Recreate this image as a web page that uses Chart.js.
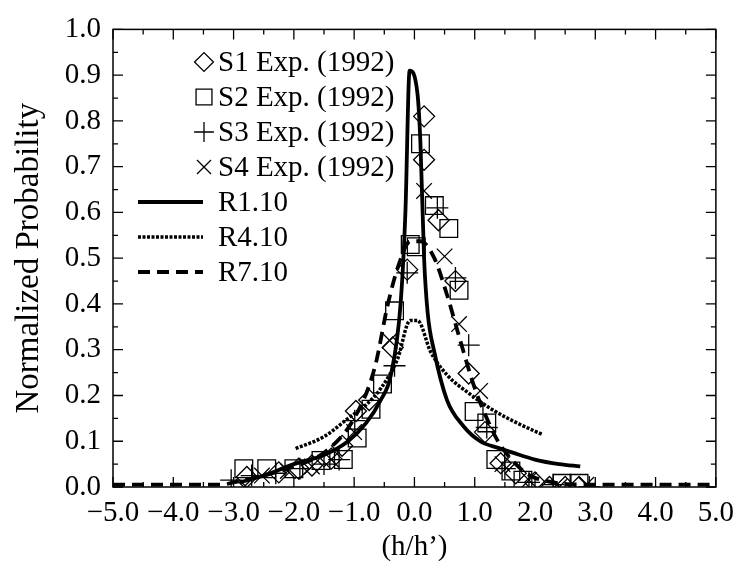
<!DOCTYPE html>
<html>
<head>
<meta charset="utf-8">
<script src="https://cdn.jsdelivr.net/npm/chart.js@4/dist/chart.umd.min.js"></script>
<style>
  html, body { margin: 0; padding: 0; background: #fff; }
  #wrap { width: 743px; height: 569px; }
</style>
</head>
<body>
<div id="wrap"><canvas id="chart" width="743" height="569"></canvas></div>
<script>
// experimental points (h/h', normalized probability)
const s1X = [-2.78, -2.25, -1.92, -1.7, -1.38, -1.2, -0.97, -0.75, -0.36, -0.12, 0.16, 0.16, 0.40, 0.68, 0.9, 1.17, 1.43, 1.68, 2.0, 2.24, 2.5, 2.73];
const s1Y = [0.022, 0.032, 0.04, 0.047, 0.062, 0.09, 0.166, 0.19, 0.305, 0.475, 0.81, 0.715, 0.583, 0.45, 0.248, 0.12, 0.052, 0.03, 0.01, 0.0, 0.0, 0.0];

const s2X = [-2.83, -2.45, -2.0, -1.55, -1.18, -0.95, -0.72, -0.53, -0.33, -0.07, 0.03, 0.1, 0.33, 0.57, 0.74, 0.99, 1.2, 1.35, 1.6, 1.8, 2.45, 2.73];
const s2Y = [0.04, 0.04, 0.04, 0.058, 0.06, 0.107, 0.17, 0.225, 0.385, 0.53, 0.525, 0.75, 0.615, 0.565, 0.43, 0.165, 0.14, 0.06, 0.035, 0.015, 0.008, 0.008];

const s3X = [-3.04, -2.7, -2.3, -1.9, -1.5, -1.25, -0.99, -0.33, -0.12, 0.38, 0.68, 0.9, 1.2, 1.5, 1.9, 2.3, 2.9];
const s3Y = [0.015, 0.025, 0.03, 0.04, 0.05, 0.06, 0.145, 0.265, 0.468, 0.61, 0.457, 0.31, 0.13, 0.04, 0.01, 0.005, 0.0];

const s4X = [-2.83, -2.53, -2.1, -1.7, -1.38, -1.0, -0.41, 0.16, 0.5, 0.74, 1.09, 1.46, 1.9, 2.4, 2.85];
const s4Y = [0.0, 0.025, 0.035, 0.045, 0.06, 0.12, 0.32, 0.647, 0.504, 0.356, 0.21, 0.05, 0.015, 0.0, 0.005];

// model curves
const r1X = [-2.9, -2.5, -2.0, -1.5, -1.1, -0.8, -0.56, -0.39, -0.23, -0.15, -0.08, 0.05, 0.1, 0.16, 0.22, 0.33, 0.54, 0.8, 1.09, 1.4, 1.63, 2.0, 2.4, 2.75];
const r1Y = [0.01, 0.025, 0.05, 0.07, 0.10, 0.14, 0.19, 0.245, 0.40, 0.6, 0.91, 0.86, 0.75, 0.5, 0.38, 0.295, 0.19, 0.135, 0.10, 0.085, 0.075, 0.06, 0.05, 0.045];

const r4X = [-1.97, -1.5, -1.1, -0.8, -0.56, -0.28, -0.07, 0.05, 0.27, 0.54, 0.9, 1.28, 1.7, 2.12];
const r4Y = [0.084, 0.11, 0.15, 0.18, 0.215, 0.28, 0.364, 0.364, 0.295, 0.245, 0.205, 0.17, 0.14, 0.115];

const r7X = [-5.0, -4.0, -3.2, -3.0, -2.5, -2.0, -1.5, -1.0, -0.66, -0.44, -0.25, -0.07, 0.1, 0.33, 0.54, 0.76, 0.99, 1.2, 1.4, 1.72, 2.0, 3.0, 4.0, 5.0];
const r7Y = [0.005, 0.005, 0.005, 0.01, 0.025, 0.045, 0.075, 0.15, 0.26, 0.40, 0.49, 0.537, 0.537, 0.50, 0.42, 0.32, 0.22, 0.15, 0.097, 0.045, 0.02, 0.005, 0.005, 0.005];

const labels = ['S1 Exp. (1992)', 'S2 Exp. (1992)', 'S3 Exp. (1992)', 'S4 Exp. (1992)', 'R1.10', 'R4.10', 'R7.10'];

const serif = '"Liberation Serif", "DejaVu Serif", serif';

function pairs(xs, ys) {
    return xs.map(function (x, i) { return { x: x, y: ys[i] }; });
}

function markerSet(label, xs, ys, style, radius) {
    return {
        label: label,
        data: pairs(xs, ys),
        pointStyle: style,
        pointRadius: radius,
        pointHoverRadius: radius,
        pointBorderColor: '#000',
        pointBackgroundColor: 'rgba(0,0,0,0)',
        pointBorderWidth: 1.3,
        showLine: false
    };
}

function lineSet(label, xs, ys, width, dash) {
    return {
        label: label,
        data: pairs(xs, ys),
        showLine: true,
        borderColor: '#000',
        borderWidth: width,
        borderDash: dash,
        pointRadius: 0,
        pointHoverRadius: 0,
        cubicInterpolationMode: 'monotone',
        fill: false
    };
}

function fmt(v) {
    const s = (Math.round(v * 10) / 10).toFixed(1);
    return s.replace('-', '\u2212');
}

// inward ticks on all four sides plus the frame
const frameTicks = {
    id: 'frameTicks',
    afterDatasetsDraw: function (chart) {
        const ctx = chart.ctx;
        const a = chart.chartArea;
        const xs = chart.scales.x;
        const ys = chart.scales.y;
        ctx.save();
        ctx.strokeStyle = '#000';
        ctx.lineWidth = 1.5;
        ctx.strokeRect(a.left, a.top, a.right - a.left, a.bottom - a.top);
        ctx.lineWidth = 1.3;
        ctx.beginPath();
        for (let i = -10; i <= 10; i++) {
            const px = xs.getPixelForValue(i / 2);
            const len = i % 2 === 0 ? 10 : 5;
            ctx.moveTo(px, a.bottom); ctx.lineTo(px, a.bottom - len);
            ctx.moveTo(px, a.top); ctx.lineTo(px, a.top + len);
        }
        for (let j = 0; j <= 20; j++) {
            const py = ys.getPixelForValue(j / 20);
            const len = j % 2 === 0 ? 10 : 5;
            ctx.moveTo(a.left, py); ctx.lineTo(a.left + len, py);
            ctx.moveTo(a.right, py); ctx.lineTo(a.right - len, py);
        }
        ctx.stroke();
        ctx.restore();
    }
};

// legend inside the plot, markers and line samples left of the text
const innerLegend = {
    id: 'innerLegend',
    afterDraw: function (chart) {
        const ctx = chart.ctx;
        const textX = 218;
        const rowY = [62, 97, 132, 167, 202, 237, 272];
        ctx.save();
        ctx.font = '29px ' + serif;
        ctx.fillStyle = '#000';
        ctx.textBaseline = 'middle';
        chart.data.datasets.forEach(function (ds, i) {
            const y = rowY[i];
            if (ds.showLine) {
                ctx.save();
                ctx.strokeStyle = '#000';
                ctx.lineWidth = ds.borderWidth;
                ctx.setLineDash(ds.borderDash || []);
                ctx.beginPath();
                ctx.moveTo(138, y);
                ctx.lineTo(203, y);
                ctx.stroke();
                ctx.restore();
            } else {
                ctx.save();
                ctx.strokeStyle = '#000';
                ctx.fillStyle = 'rgba(0,0,0,0)';
                ctx.lineWidth = 1.3;
                Chart.helpers.drawPoint(ctx, {
                    pointStyle: ds.pointStyle,
                    radius: ds.pointRadius * 0.9,
                    rotation: 0,
                    borderWidth: 1.3
                }, 204, y);
                ctx.restore();
            }
            ctx.fillText(ds.label, textX, y + 1);
        });
        ctx.restore();
    }
};

Chart.defaults.color = '#000';
Chart.defaults.font.family = serif;

new Chart(document.getElementById('chart'), {
    type: 'scatter',
    data: {
        datasets: [
            markerSet(labels[0], s1X, s1Y, 'rectRot', 10.5),
            markerSet(labels[1], s2X, s2Y, 'rect', 12.5),
            markerSet(labels[2], s3X, s3Y, 'cross', 11),
            markerSet(labels[3], s4X, s4Y, 'crossRot', 11),
            lineSet(labels[4], r1X, r1Y, 3.8, []),
            lineSet(labels[5], r4X, r4Y, 3.5, [3, 1.5]),
            lineSet(labels[6], r7X, r7Y, 3.8, [12, 7])
        ]
    },
    options: {
        responsive: false,
        animation: false,
        layout: { padding: { left: 0, right: 22, top: 23, bottom: 0 } },
        plugins: {
            legend: { display: false },
            tooltip: { enabled: false }
        },
        scales: {
            x: {
                type: 'linear',
                min: -5,
                max: 5,
                grid: { display: false, drawTicks: false },
                border: { display: false },
                ticks: {
                    stepSize: 1,
                    autoSkip: false,
                    maxRotation: 0,
                    padding: 9,
                    font: { size: 29 },
                    callback: function (v) { return fmt(v); }
                },
                title: {
                    display: true,
                    text: '(h/h\u2019)',
                    font: { size: 29 },
                    padding: { top: 0, bottom: 4 }
                },
                afterFit: function (scale) { scale.height = 82; }
            },
            y: {
                type: 'linear',
                min: 0,
                max: 1,
                grid: { display: false, drawTicks: false },
                border: { display: false },
                ticks: {
                    stepSize: 0.1,
                    padding: 12,
                    font: { size: 29 },
                    callback: function (v) { return fmt(v); }
                },
                title: {
                    display: true,
                    text: 'Normalized Probability',
                    font: { size: 33 },
                    padding: { top: 10, bottom: 0 }
                },
                afterFit: function (scale) { scale.width = 113; }
            }
        }
    },
    plugins: [frameTicks, innerLegend]
});
</script>
</body>
</html>
